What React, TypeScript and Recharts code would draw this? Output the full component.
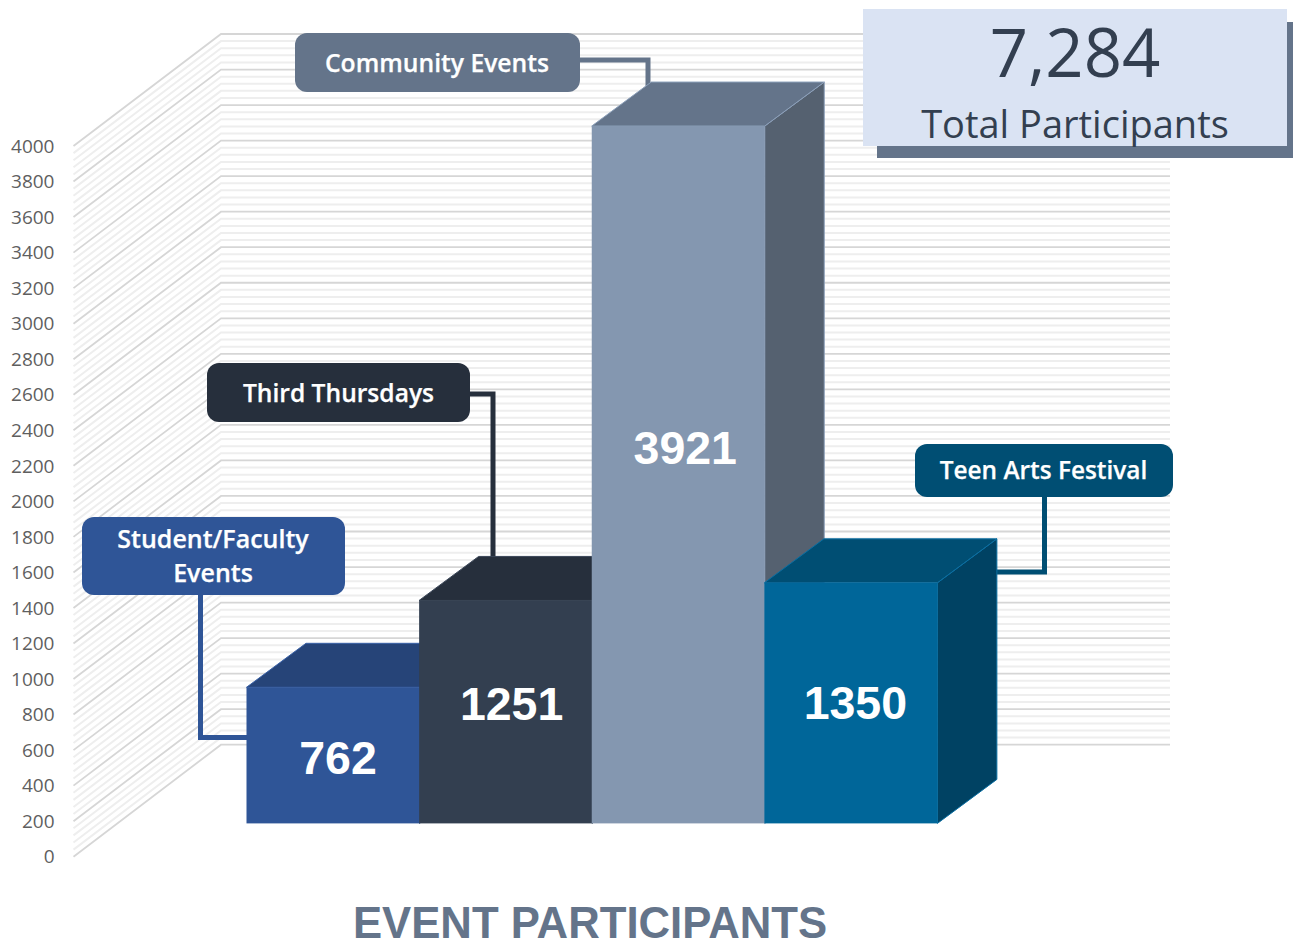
import React from "react";
import { BarChart, Bar, XAxis, YAxis, CartesianGrid } from "recharts";

const categories = ["Student/Faculty Events", "Third Thursdays", "Community Events", "Teen Arts Festival"];
const participants = [762, 1251, 3921, 1350];
const axisTicks = [0, 200, 400, 600, 800, 1000, 1200, 1400, 1600, 1800, 2000, 2200, 2400, 2600, 2800, 3000, 3200, 3400, 3600, 3800, 4000];
const gridValues = Array.from({ length: 101 }, (_, i) => i * 40);
const totalValue = "7,284";
const totalLabel = "Total Participants";
const chartTitle = "EVENT PARTICIPANTS";

const frontColors = ["#2F5597", "#333F50", "#8497B0", "#006699"];
const topColors = ["#264478", "#262F3C", "#64748A", "#004E73"];
const sideColors = ["#203864", "#1F2733", "#556170", "#004263"];
const edgeColors = ["#3A62A8", "#3A4658", "#8CA0BA", "#0A6FA3"];
const calloutColors = ["#2F5597", "#262F3C", "#64748A", "#004E73"];

// wall perspective and bar placement on the floor (drawing style, not data)
const WALL_DX = 147.5;
const WALL_DY = 112;
const FLOOR_DX = 43.5;
const FLOOR_DY = 34;
const BAR_DX = 59.5;
const BAR_DY = 44;

type Callout = {
  box: [number, number, number, number];
  lines: [string, number][];
  cx: number;
  size: number;
  leader: string;
  valueOffset: [number, number];
};
const callouts: Callout[] = [
  { box: [82, 517, 263, 78], lines: [["Student/Faculty", 548], ["Events", 582]], cx: 213, size: 25, leader: "M200.5 595 V737.5 H248", valueOffset: [5, 19] },
  { box: [207, 363, 263, 59], lines: [["Third Thursdays", 402]], cx: 338.5, size: 24.6, leader: "M470 394 H493 V557", valueOffset: [6, 8] },
  { box: [295, 33, 285, 59], lines: [["Community Events", 72]], cx: 437, size: 24.7, leader: "M580 60 H648 V86", valueOffset: [7, -10] },
  { box: [915, 444, 258, 53], lines: [["Teen Arts Festival", 479]], cx: 1043.5, size: 24.4, leader: "M1044.5 497 V572 H990", valueOffset: [4.5, 16] },
];

const rows = categories.map((name, i) => ({ name, value: participants[i], index: i }));

function Box3D(props: any) {
  const { x, y, width, height, payload } = props;
  const i = payload.index;
  const c = callouts[i];
  const l = x + FLOOR_DX;
  const t = y - FLOOR_DY;
  const r = l + width;
  const b = t + height + 0.7;
  const edge = { stroke: edgeColors[i], strokeWidth: 1 };
  const [bx, by, bw, bh] = c.box;
  return (
    <g>
      <path d={c.leader} fill="none" stroke={calloutColors[i]} strokeWidth={5} />
      <polygon points={`${r},${t} ${r + BAR_DX},${t - BAR_DY} ${r + BAR_DX},${b - BAR_DY} ${r},${b}`} fill={sideColors[i]} {...edge} />
      <polygon points={`${l},${t} ${l + BAR_DX},${t - BAR_DY} ${r + BAR_DX},${t - BAR_DY} ${r},${t}`} fill={topColors[i]} {...edge} />
      <rect x={l} y={t} width={width} height={height + 0.7} fill={frontColors[i]} />
      <text
        x={l + width / 2 + c.valueOffset[0]}
        y={t + height / 2 + c.valueOffset[1]}
        textAnchor="middle"
        fontFamily="Liberation Sans"
        fontWeight={700}
        fontSize={46.5}
        fill="#FFFFFF"
      >
        {payload.value}
      </text>
      <rect x={bx} y={by} width={bw} height={bh} rx={12} fill={calloutColors[i]} />
      {c.lines.map(([txt, base]) => (
        <text
          key={txt}
          x={c.cx}
          y={base}
          textAnchor="middle"
          fontFamily="Open Sans"
          fontWeight={600}
          fontSize={c.size}
          fill="#FFFFFF"
          stroke="#FFFFFF"
          strokeWidth={0.25}
        >
          {txt}
        </text>
      ))}
    </g>
  );
}

function wallLine(props: any) {
  const { x1, x2, y1, index } = props;
  const major = Math.round(((856.7 - y1) / 35.535) * 5) % 5 === 0;
  const backX = x1 + WALL_DX;
  const backY = y1 - WALL_DY;
  return (
    <path
      key={`wall-${index}-${y1}`}
      d={`M${x1} ${y1} L${backX} ${backY} H${x2 + WALL_DX}`}
      fill="none"
      stroke={major ? "#D6D6D6" : "#EEEEEE"}
      strokeWidth={major ? 1.8 : 2}
    />
  );
}

export default function App() {
  return (
    <div style={{ position: "absolute", left: 0, top: 0, width: 1293, height: 943, background: "#FFFFFF", overflow: "hidden" }}>
      <BarChart
        width={1293}
        height={943}
        data={rows}
        barCategoryGap={0}
        margin={{ top: 146, right: 270.5, bottom: 86.3, left: 0 }}
        style={{ position: "absolute", left: 0, top: 0 }}
      >
        <CartesianGrid vertical={false} horizontal={wallLine as any} horizontalValues={gridValues} />
        <XAxis dataKey="name" hide padding={{ left: 129.5, right: 129 }} />
        <YAxis
          width={73.5}
          domain={[0, 4000]}
          ticks={axisTicks}
          interval={0}
          axisLine={false}
          tickLine={false}
          tickSize={0}
          tickMargin={19}
          tick={{ fontFamily: "Open Sans", fontSize: 19, fill: "#5F5F5F" }}
        />
        <Bar dataKey="value" isAnimationActive={false} shape={Box3D} />
      </BarChart>
      <svg width={1293} height={943} style={{ position: "absolute", left: 0, top: 0, pointerEvents: "none" }}>
        <rect x={877} y={22} width={416} height={136} fill="#64748A" />
        <rect x={863} y={9} width={424} height={137} fill="#DAE3F3" />
        <text x={1075} y={77} textAnchor="middle" fontFamily="Open Sans" fontSize={67} fill="#333F50">{totalValue}</text>
        <text x={1075} y={138} textAnchor="middle" fontFamily="Open Sans" fontSize={38} fill="#333F50">{totalLabel}</text>
        <text x={590} y={938} textAnchor="middle" fontFamily="Liberation Sans" fontWeight={700} fontSize={43.7} fill="#64748A">{chartTitle}</text>
      </svg>
    </div>
  );
}
